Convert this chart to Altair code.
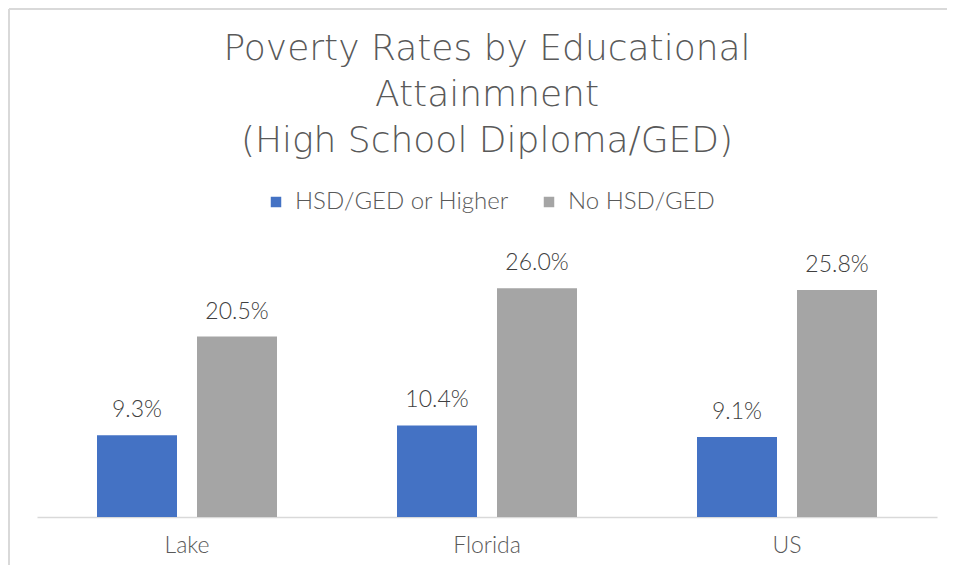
import altair as alt
import pandas as pd

regions = ["Lake", "Florida", "US"]
series = ["HSD/GED or Higher", "No HSD/GED"]
hsd_higher = [9.3, 10.4, 9.1]
no_hsd = [20.5, 26.0, 25.8]
colors = ["#4472C4", "#A5A5A5"]

rows = []
for i, r in enumerate(regions):
    rows.append({"region": r, "series": series[0], "value": hsd_higher[i]})
    rows.append({"region": r, "series": series[1], "value": no_hsd[i]})
df = pd.DataFrame(rows)
df["label"] = df["value"].map(lambda v: f"{v:.1f}%")

FONT = "Lato"
TFONT = "DejaVu Sans"

x = alt.X("region:N", sort=regions, title=None,
          scale=alt.Scale(paddingInner=0, paddingOuter=0),
          axis=alt.Axis(labelAngle=0, labelFontSize=23, labelColor="#595959",
                        labelFont=FONT, labelFontWeight=300, labelPadding=17, ticks=False,
                        domainColor="#D9D9D9", domainWidth=1.5))
xo = alt.XOffset("series:N", sort=series,
                 scale=alt.Scale(paddingInner=0.2, paddingOuter=0.6))
y = alt.Y("value:Q", scale=alt.Scale(domain=[0, 30]), axis=None)

bars = alt.Chart(df).mark_bar().encode(
    x=x, xOffset=xo, y=y,
    color=alt.Color("series:N", sort=series,
                    scale=alt.Scale(domain=series, range=colors),
                    legend=alt.Legend(title=None, orient="none", direction="horizontal",
                                      legendX=227, legendY=-63,
                                      symbolType="square", symbolSize=110,
                                      symbolStrokeWidth=0, symbolOpacity=1,
                                      labelFontSize=24, labelColor="#595959",
                                      labelFont=FONT, labelFontWeight=300, columnPadding=28,
                                      labelOffset=7, labelLimit=400)),
)

labels = alt.Chart(df).mark_text(dy=-25, fontSize=23, fontWeight=300, color="#404040", font=FONT).encode(
    x=x, xOffset=xo, y=y, text="label:N"
)

border = alt.Chart(df).mark_rule(color="#D9D9D9", strokeWidth=2, clip=False).encode(
    x=alt.value(-28), y=alt.value(-244), y2=alt.value(312)
)
border_top = alt.Chart(df).mark_rule(color="#D9D9D9", strokeWidth=2, clip=False).encode(
    x=alt.value(-28), x2=alt.value(910), y=alt.value(-244)
)

chart = alt.layer(bars, labels, border, border_top).properties(
    width=900, height=264,
    padding=0,
    title=alt.TitleParams(
        text=["Poverty Rates by Educational", "Attainmnent", "(High School Diploma/GED)"],
        fontSize=36, font=TFONT, fontWeight=200, color="#595959",
        lineHeight=46, anchor="middle", offset=-152, frame="group",
    ),
).configure_view(stroke=None)

chart.save("out.html", embed_options={"renderer": "svg", "actions": False})
